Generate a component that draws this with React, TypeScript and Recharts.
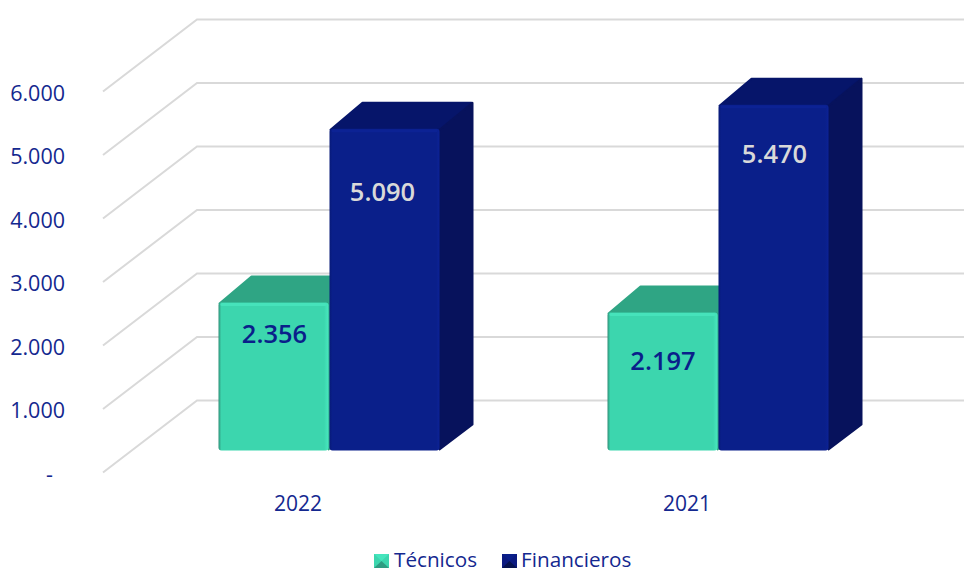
import React from "react";
import {
  BarChart,
  Bar,
  XAxis,
  YAxis,
  CartesianGrid,
  Legend,
  LabelList,
} from "recharts";

const categorias = ["2022", "2021"];
const tecnicos = [2356, 2197];
const financieros = [5090, 5470];
const yTicks = [0, 1000, 2000, 3000, 4000, 5000, 6000];

const chartData = categorias.map((anio, i) => ({
  anio,
  Técnicos: tecnicos[i],
  Financieros: financieros[i],
}));

const FONT = "'Open Sans', sans-serif";
const AZUL_TEXTO = "#14288f";
const WIDTH = 964;
const HEIGHT = 568;

// desplazamiento de la perspectiva 3D
const DEPTH_X = 33;
const DEPTH_Y = 26;
const BAR_SHIFT_X = 31;
const BAR_SHIFT_Y = -22;
const GRID_DX = 94;
const GRID_DY = 72;

const formatarTick = (value: number) =>
  value === 0 ? "-" : value.toLocaleString("de-DE");

function TickY({ x, y, payload }: any) {
  const isZero = payload.value === 0;
  return (
    <text
      x={isZero ? 53 : 65}
      y={y + 1.5}
      dy="0.36em"
      textAnchor="end"
      fontFamily={FONT}
      fontSize={21.5}
      fill={AZUL_TEXTO}
    >
      {formatarTick(payload.value)}
    </text>
  );
}

function Barra3D(props: any) {
  const { x, y, width, height, gradId, topo, lado, brilho } = props;
  const fx = x + BAR_SHIFT_X;
  const fy = y + BAR_SHIFT_Y + 1.5;
  const h = height - 1.5;
  const w = width - 1;
  return (
    <g>
      <polygon
        points={`${fx + 1},${fy + 1} ${fx + DEPTH_X},${fy - DEPTH_Y} ${fx + w + DEPTH_X - 1},${fy - DEPTH_Y} ${fx + w},${fy + 1}`}
        fill={topo}
        stroke={topo}
        strokeWidth={2}
        strokeLinejoin="round"
      />
      <polygon
        points={`${fx + w},${fy + 1} ${fx + w + DEPTH_X},${fy - DEPTH_Y} ${fx + w + DEPTH_X},${fy + h - DEPTH_Y} ${fx + w},${fy + h - 1}`}
        fill={lado}
        stroke={lado}
        strokeWidth={2}
        strokeLinejoin="round"
      />
      <rect x={fx} y={fy} width={w} height={h} rx={3} fill={`url(#${gradId})`} />
      <rect x={fx + 2} y={fy + 0.5} width={w - 4} height={3} rx={1.5} fill={brilho} />
    </g>
  );
}

function Rotulo({ x, y, width, value, fill, offsets, deslocX, index }: any) {
  return (
    <text
      x={x + BAR_SHIFT_X + width / 2 + deslocX[index]}
      y={y + BAR_SHIFT_Y + offsets[index]}
      dy="0.36em"
      textAnchor="middle"
      fontFamily={FONT}
      fontWeight={600}
      fontSize={25.5}
      fill={fill}
    >
      {value.toLocaleString("de-DE")}
    </text>
  );
}

function Icone({ claro, medio, escuro }: any) {
  return (
    <svg width={15} height={14} style={{ display: "block", marginTop: 3 }}>
      <rect width={15} height={14} fill={medio} />
      <polygon points="0,0 15,0 7.5,7 " fill={claro} />
      <polygon points="0,14 15,14 7.5,7" fill={escuro} />
    </svg>
  );
}

function Legenda() {
  const texto = { fontFamily: FONT, fontSize: 20.7, color: AZUL_TEXTO, lineHeight: "17px" };
  return (
    <div style={{ display: "flex", alignItems: "flex-start", whiteSpace: "nowrap" }}>
      <Icone claro="#45e5bd" medio="#3cd6ae" escuro="#2f9c82" />
      <span style={{ ...texto, marginLeft: 5, marginRight: 25 }}>Técnicos</span>
      <Icone claro="#0a1f8a" medio="#0b1a80" escuro="#06124f" />
      <span style={{ ...texto, marginLeft: 4 }}>Financieros</span>
    </div>
  );
}

export default function App() {
  return (
    <div style={{ position: "absolute", left: 0, top: 0, width: WIDTH, height: HEIGHT, overflow: "hidden" }}>
      <BarChart
        width={WIDTH}
        height={HEIGHT}
        data={chartData}
        margin={{ top: 91.5, right: 82.5, bottom: 0, left: 0 }}
        barSize={111}
        barGap={0}
      >
        <defs>
          <linearGradient id="gradTecnicos" x1="0" y1="0" x2="1" y2="0">
            <stop offset="0" stopColor="#2f8f78" />
            <stop offset="0.025" stopColor="#3cd6ae" />
            <stop offset="0.96" stopColor="#3cd6ae" />
            <stop offset="1" stopColor="#48e8bf" />
          </linearGradient>
          <linearGradient id="gradFinancieros" x1="0" y1="0" x2="1" y2="0">
            <stop offset="0" stopColor="#081a78" />
            <stop offset="0.025" stopColor="#0a1f8a" />
            <stop offset="0.97" stopColor="#0a1f8a" />
            <stop offset="1" stopColor="#0c2296" />
          </linearGradient>
        </defs>
        <CartesianGrid
          vertical={false}
          horizontal={(p: any) => (
            <polyline
              key={p.y1}
              points={`${103},${p.y1} ${103 + GRID_DX},${p.y1 - GRID_DY} ${WIDTH},${p.y1 - GRID_DY}`}
              fill="none"
              stroke="#d9d9d9"
              strokeWidth={2}
            />
          )}
        />
        <XAxis
          dataKey="anio"
          height={95.5}
          axisLine={false}
          tickLine={false}
          tickSize={0}
          tickMargin={24}
          tick={{ fontFamily: FONT, fontSize: 21, fill: AZUL_TEXTO }}
        />
        <YAxis
          width={103.5}
          domain={[0, 6000]}
          ticks={yTicks}
          interval={0}
          axisLine={false}
          tickLine={false}
          tick={<TickY />}
        />
        <Legend
          layout="horizontal"
          verticalAlign="middle"
          align="center"
          content={<Legenda />}
          wrapperStyle={{ position: "absolute", left: 374, top: 551, width: "auto" }}
        />
        <Bar
          dataKey="Técnicos"
          fill="#3cd6ae"
          isAnimationActive={false}
          shape={<Barra3D gradId="gradTecnicos" topo="#2fa584" lado="#2fa584" brilho="#46e3bb" />}
        >
          <LabelList
            dataKey="Técnicos"
            content={(p: any) => (
              <Rotulo {...p} fill="#0a1f8a" offsets={[33, 49.5]} deslocX={[0.5, 0]} />
            )}
          />
        </Bar>
        <Bar
          dataKey="Financieros"
          fill="#0a1f8a"
          isAnimationActive={false}
          shape={<Barra3D gradId="gradFinancieros" topo="#06156a" lado="#07125c" brilho="#0c2294" />}
        >
          <LabelList
            dataKey="Financieros"
            content={(p: any) => (
              <Rotulo {...p} fill="#d9d9d9" offsets={[65, 50.5]} deslocX={[-2.5, 0.5]} />
            )}
          />
        </Bar>
      </BarChart>
    </div>
  );
}
